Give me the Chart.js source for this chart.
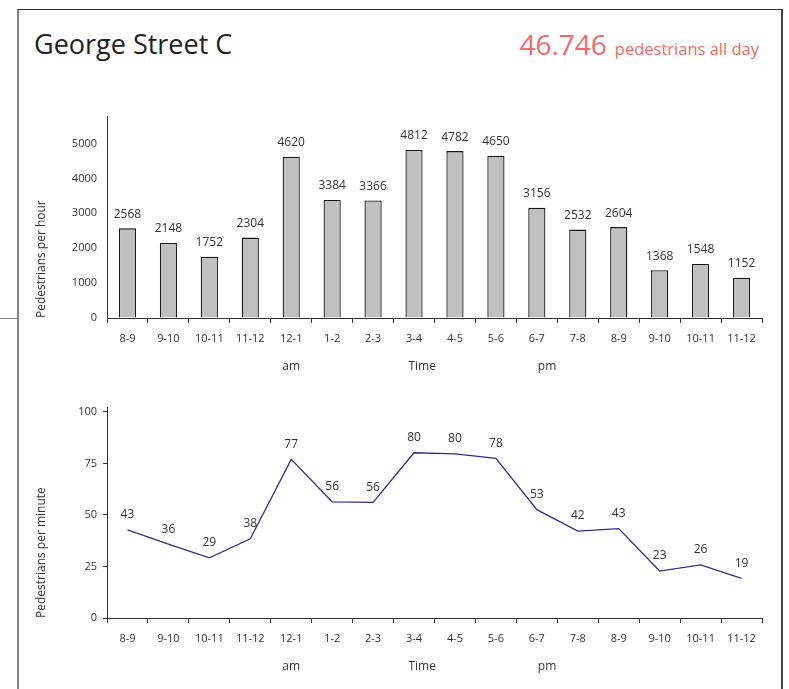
<!DOCTYPE html>
<html lang="en">
<head>
    <meta charset="UTF-8">
    <title>George Street C | Pedestrian Count</title>
    <script src="https://cdn.jsdelivr.net/npm/chart.js@4.4.1/dist/chart.umd.min.js"></script>
    <style>
      html, body { margin: 0; padding: 0; background: #fff; }
      body { width: 789px; height: 689px; position: relative; overflow: hidden; font-family: 'Open Sans', sans-serif; }
      .frame { position: absolute; left: 17px; top: 9px; width: 762px; height: 720px;
               border-top: 1px solid #333; border-left: 2px solid #858585; border-right: 2px solid #444; }
      .stub { position: absolute; left: 0; top: 318px; width: 18px; height: 1px; background: #858585; }
      .title { position: absolute; left: 34px; top: 24px; font-size: 27px; line-height: 40px; color: #222; }
      .total { position: absolute; right: 30px; top: 24px; line-height: 40px; color: #ee6b6b; white-space: nowrap; }
      .total .num { font-size: 28px; }
      .total .txt { font-size: 16.5px; margin-left: 8px; }
      .box { position: absolute; left: 0; width: 789px; }
    </style>
</head>
<body>
    <div class="frame"></div>
    <div class="stub"></div>
    <div class="title">George Street C</div>
    <div class="total"><span class="num">46.746</span><span class="txt">pedestrians all day</span></div>

    <div class="box" style="top:100px;height:290px;"><canvas id="chartHour"></canvas></div>
    <div class="box" style="top:390px;height:299px;"><canvas id="chartMinute"></canvas></div>

    <script>
      const timeSlots = ['8-9', '9-10', '10-11', '11-12', '12-1', '1-2', '2-3', '3-4',
                         '4-5', '5-6', '6-7', '7-8', '8-9', '9-10', '10-11', '11-12'];
      const perHour = [2568, 2148, 1752, 2304, 4620, 3384, 3366, 4812,
                       4782, 4650, 3156, 2532, 2604, 1368, 1548, 1152];
      const perMinute = [42.8, 35.8, 29.2, 38.4, 77.0, 56.4, 56.1, 80.2,
                         79.7, 77.5, 52.6, 42.2, 43.4, 22.8, 25.8, 19.2];
      const hourTicks = [0, 1000, 2000, 3000, 4000, 5000];
      const minuteTicks = [0, 25, 50, 75, 100];
      // am / Time / pm notes under the x axis, placed by category index
      const notes = [['am', 4], ['Time', 7.2], ['pm', 10.25]];

      const textColor = '#333';
      const axisColor = '#333';
      const tickFont = { family: "'Open Sans', sans-serif", size: 11 };

      // value labels above each bar / point, plus the axis notes and side title
      const extras = {
        id: 'extras',
        afterDatasetsDraw(chart, args, opts) {
          const ctx = chart.ctx;
          const meta = chart.getDatasetMeta(0);
          const values = chart.data.datasets[0].data;
          const area = chart.chartArea;
          ctx.save();
          ctx.fillStyle = textColor;
          ctx.textBaseline = 'middle';
          ctx.textAlign = 'center';
          ctx.font = "12px 'Open Sans', sans-serif";
          meta.data.forEach((el, i) => {
            ctx.fillText(String(Math.round(values[i])), el.x, el.y - opts.lift);
          });
          const xs = chart.scales.x;
          notes.forEach(([txt, at]) => {
            ctx.fillText(txt, xs.getPixelForValue(at), area.bottom + 49);
          });
          // rotated axis title, starting at the x axis level
          ctx.translate(42, area.bottom);
          ctx.rotate(-Math.PI / 2);
          ctx.textAlign = 'left';
          ctx.fillText(opts.title, 0, 0);
          ctx.restore();
        }
      };

      function xAxis() {
        return {
          offset: true,
          grid: { offset: true, drawOnChartArea: false, drawTicks: true, tickLength: 5, color: axisColor },
          border: { color: axisColor, width: 1 },
          ticks: { color: textColor, font: tickFont, padding: 9, maxRotation: 0, autoSkip: false },
          afterFit: s => { s.height = 50; }
        };
      }

      function yAxis(max, list, tickLen, pad) {
        return {
          min: 0,
          max: max,
          grid: { drawOnChartArea: false, drawTicks: tickLen > 0, tickLength: tickLen, color: axisColor },
          border: { color: axisColor, width: 1 },
          ticks: { color: textColor, font: tickFont, padding: pad, callback: v => String(v) },
          afterBuildTicks: s => { s.ticks = list.map(v => ({ value: v })); },
          afterFit: s => { s.width = 57; }
        };
      }

      new Chart(document.getElementById('chartHour'), {
        type: 'bar',
        data: {
          labels: timeSlots,
          datasets: [{
            data: perHour,
            backgroundColor: '#c0c0c0',
            borderColor: '#1a1a1a',
            borderWidth: 1.3,
            barPercentage: 0.42,
            categoryPercentage: 1
          }]
        },
        options: {
          responsive: true,
          maintainAspectRatio: false,
          animation: false,
          layout: { padding: { left: 50, right: 27, top: 16, bottom: 22 } },
          plugins: {
            legend: { display: false },
            tooltip: { enabled: false },
            extras: { lift: 14, title: 'Pedestrians per hour' }
          },
          scales: {
            x: xAxis(),
            y: yAxis(5770, hourTicks, 0, 10)
          }
        },
        plugins: [extras]
      });

      new Chart(document.getElementById('chartMinute'), {
        type: 'line',
        data: {
          labels: timeSlots,
          datasets: [{
            data: perMinute,
            borderColor: '#2e3082',
            borderWidth: 1.3,
            pointRadius: 0,
            tension: 0,
            fill: false
          }]
        },
        options: {
          responsive: true,
          maintainAspectRatio: false,
          animation: false,
          layout: { padding: { left: 50, right: 27, top: 17, bottom: 21 } },
          plugins: {
            legend: { display: false },
            tooltip: { enabled: false },
            extras: { lift: 15, title: 'Pedestrians per minute' }
          },
          scales: {
            x: xAxis(),
            y: yAxis(102.4, minuteTicks, 4, 6)
          }
        },
        plugins: [extras]
      });
    </script>
</body>
</html>
